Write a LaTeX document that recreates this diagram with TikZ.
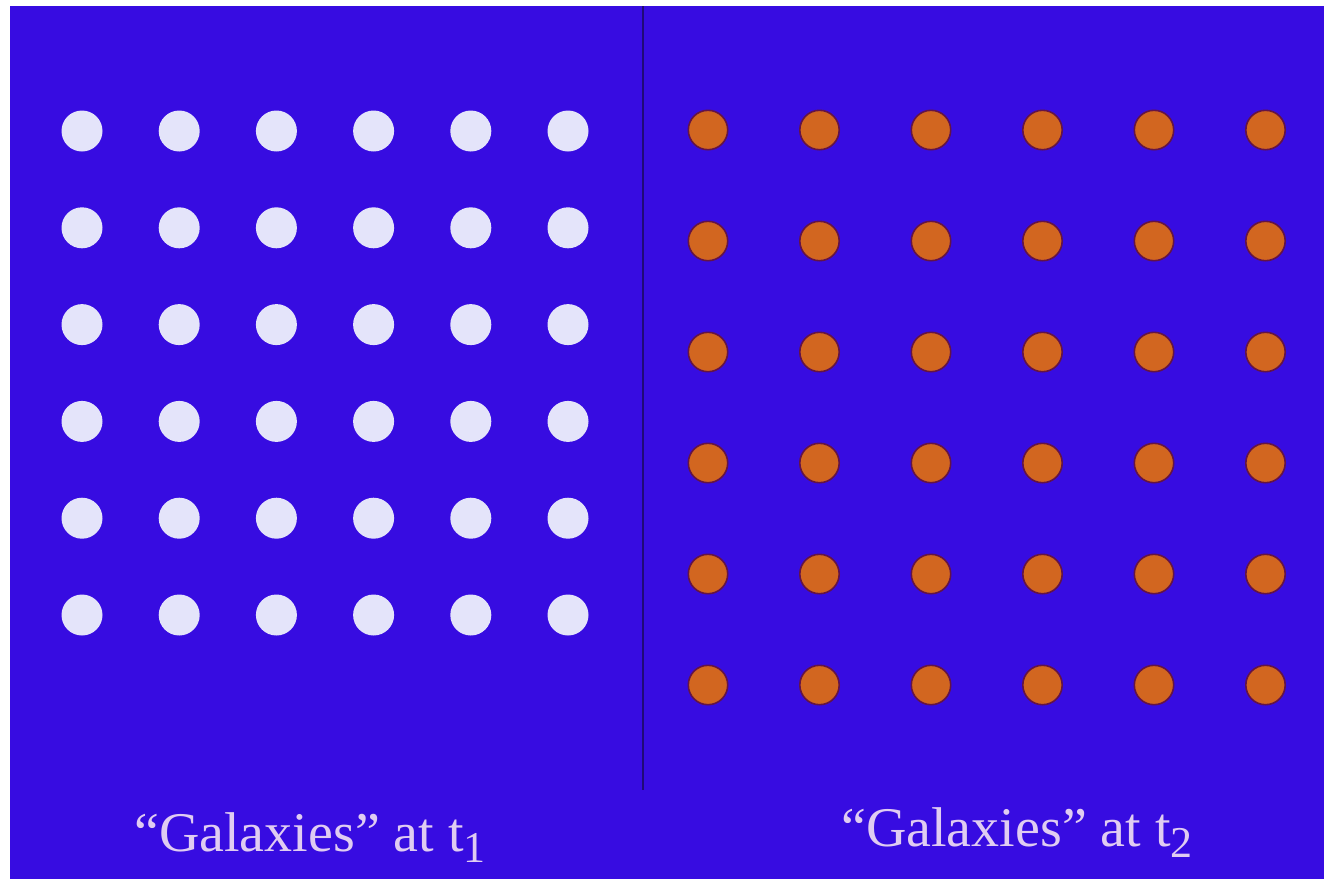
\documentclass[tikz,border=0pt]{standalone}
\usepackage{fontspec}
\setmainfont{Liberation Serif}
\usetikzlibrary{calc}

\definecolor{skyblue}{RGB}{55,12,225}
\definecolor{dotwhite}{RGB}{228,228,250}
\definecolor{dotorange}{RGB}{210,102,32}
\definecolor{dotrim}{RGB}{100,20,70}
\definecolor{divider}{RGB}{32,10,120}
\definecolor{labelcol}{RGB}{224,204,242}

\newcommand{\tsub}[1]{\raisebox{-0.2em}{\fontsize{44}{44}\selectfont #1}}

\tikzset{
    galaxylabel/.style={text=labelcol, font=\fontsize{56}{60}\selectfont,
        inner sep=0pt, anchor=base west}
}

\begin{document}
\begin{tikzpicture}[x=1pt,y=-1pt]

\def\R{20.5pt}

% Frame and sky
\useasboundingbox (0,0) rectangle (1324,879);
\fill[white] (0,0) rectangle (1324,879);
\fill[skyblue] (10,6) rectangle (1324,879);

% Divider
\draw[divider, line width=2pt] (643,6)--(643,790);

% Galaxies at t1
\foreach \i in {0,...,5}
  \foreach \j in {0,...,5}
    \fill[dotwhite] ({82+97.2*\i},{131+96.8*\j}) circle (\R);

% Galaxies at t2
\foreach \i in {0,...,5}
  \foreach \j in {0,...,5}
    \filldraw[fill=dotorange, draw=dotrim, line width=1.6pt]
      ({708+111.5*\i},{130+111*\j}) circle (\R-0.8pt);

% Labels
\node[galaxylabel] (labone) at (134,851) {“Galaxies” at t\tsub{1}};
\node[galaxylabel] (labtwo) at (841,846) {“Galaxies” at t\tsub{2}};

\end{tikzpicture}
\end{document}
